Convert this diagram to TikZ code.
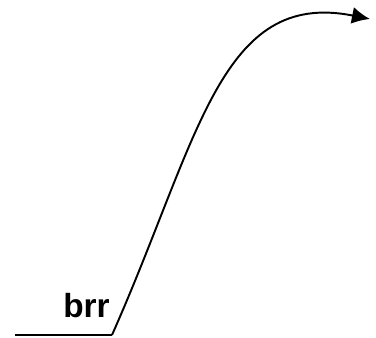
\documentclass[tikz,border=0pt]{standalone}
\usepackage{fontspec}
\setmainfont{Liberation Sans}
\usepackage{tikz}
\usetikzlibrary{arrows.meta,positioning}

\begin{document}
\begin{tikzpicture}[
          x=0.02cm, y=-0.02cm,
          curve/.style={line width=1.1pt, -{Latex[length=0.36cm,width=0.34cm]}},
          flat/.style={line width=1.1pt},
          lbl/.style={font=\fontsize{19}{22}\selectfont\bfseries, inner sep=0pt}
      ]
      \useasboundingbox (0,0) rectangle (376,338);
      \coordinate (left)  at (15, 335);
      \coordinate (knee)  at (112,335);
      \coordinate (tip)   at (370,19);
      \node[lbl, anchor=base east] (brr) at (110,317) {brr};
      \draw[flat] (left) -- (knee);
      \draw[curve] (knee) .. controls (199,139) and (220,-11) .. (tip);
      \end{tikzpicture}
\end{document}
